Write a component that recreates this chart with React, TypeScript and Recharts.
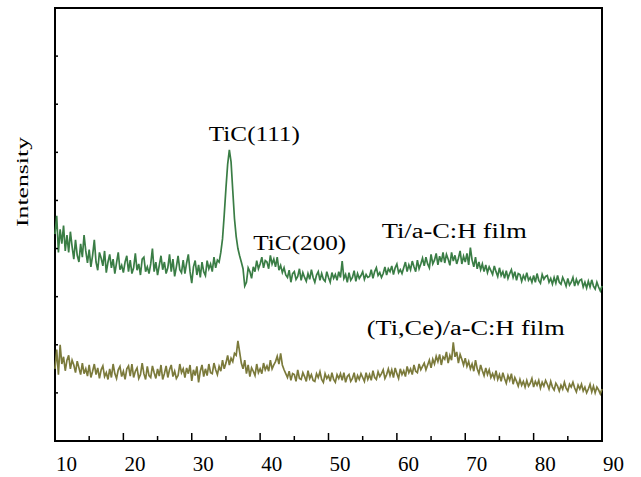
import React from "react";
import { LineChart, Line, XAxis, YAxis, ReferenceArea, ReferenceDot } from "recharts";

// 2θ sampled every 0.25° from 10 to 90
const START = 10;
const STEP = 0.25;

const tiFilm = [
  430, 468, 392, 440, 410, 448, 395, 428, 392, 435, 404, 378, 418, 386, 372, 410,
  382, 428, 395, 370, 398, 362, 386, 418, 372, 355, 392, 380, 364, 395, 350, 372,
  388, 360, 378, 348, 370, 392, 356, 365, 350, 372, 385, 352, 376, 348, 360, 390,
  355, 368, 345, 378, 382, 352, 362, 348, 368, 400, 352, 372, 345, 365, 385, 356,
  372, 348, 360, 388, 352, 378, 342, 362, 385, 356, 350, 376, 348, 370, 388, 352,
  328, 362, 375, 345, 366, 340, 372, 352, 344, 375, 358, 368, 352, 382, 360, 376,
  372, 392, 420, 470, 525, 575, 605, 580, 520, 462, 425, 400, 385, 372, 358, 322,
  330, 360, 352, 338, 362, 352, 375, 358, 368, 382, 360, 375, 372, 358, 386, 368,
  378, 362, 382, 355, 365, 350, 360, 345, 340, 355, 330, 348, 352, 336, 342, 358,
  334, 350, 340, 332, 348, 336, 356, 340, 330, 345, 352, 334, 348, 336, 332, 352,
  340, 330, 350, 338, 346, 334, 352, 340, 374, 338, 346, 330, 350, 334, 340, 354,
  332, 348, 338, 344, 352, 336, 346, 340, 342, 356, 338, 352, 360, 344, 350, 340,
  348, 362, 345, 358, 352, 364, 346, 360, 368, 350, 356, 348, 360, 372, 352, 366,
  356, 374, 362, 352, 376, 358, 368, 380, 364, 382, 368, 360, 388, 368, 376, 390,
  366, 384, 372, 392, 370, 388, 378, 365, 392, 374, 386, 368, 380, 395, 368, 384,
  372, 390, 366, 402, 376, 362, 382, 358, 372, 356, 368, 352, 366, 350, 362, 354,
  346, 364, 352, 342, 360, 344, 352, 338, 354, 338, 348, 356, 340, 352, 334, 348,
  346, 332, 344, 336, 350, 334, 340, 330, 344, 330, 348, 334, 328, 346, 336, 342,
  344, 330, 338, 326, 340, 328, 344, 330, 326, 340, 332, 322, 338, 324, 330, 340,
  322, 336, 326, 334, 336, 320, 330, 318, 332, 320, 335, 322, 316, 330, 320, 312,
  322,
];

const tiCeFilm = [
  150, 190, 138, 200, 160, 175, 146, 168, 178, 150, 168, 158, 142, 166, 152, 138,
  162, 140, 150, 135, 158, 132, 145, 160, 138, 152, 130, 148, 156, 134, 142, 128,
  150, 132, 160, 140, 130, 148, 155, 134, 145, 128, 150, 156, 135, 160, 132, 145,
  152, 130, 138, 162, 140, 128, 155, 136, 132, 156, 142, 130, 150, 135, 158, 128,
  140, 156, 132, 148, 158, 134, 145, 130, 136, 160, 142, 150, 132, 152, 140, 158,
  125, 148, 136, 155, 122, 145, 158, 134, 150, 136, 160, 142, 140, 162, 148, 138,
  155, 145, 168, 150, 162, 178, 158, 172, 165, 182, 178, 208, 185, 162, 150, 168,
  140, 158, 134, 152, 145, 136, 160, 142, 150, 140, 162, 148, 156, 145, 168, 150,
  158, 165, 176, 160, 182, 158, 148, 140, 132, 145, 126, 140, 138, 124, 148, 130,
  128, 142, 134, 124, 146, 130, 138, 126, 124, 140, 132, 144, 128, 122, 140, 130,
  136, 124, 142, 128, 122, 138, 130, 140, 126, 142, 122, 134, 138, 124, 130, 142,
  122, 136, 128, 140, 132, 124, 142, 128, 138, 126, 146, 132, 128, 144, 134, 140,
  148, 130, 138, 150, 136, 148, 132, 152, 140, 130, 150, 138, 146, 134, 155, 142,
  150, 138, 158, 145, 142, 160, 148, 155, 162, 148, 158, 168, 152, 170, 160, 176,
  165, 180, 158, 175, 170, 185, 162, 178, 168, 205, 175, 185, 162, 180, 170, 158,
  172, 155, 165, 150, 160, 145, 168, 150, 140, 158, 146, 136, 152, 138, 148, 132,
  140, 130, 146, 128, 138, 124, 142, 130, 120, 136, 126, 140, 118, 132, 124, 114,
  128, 116, 124, 112, 126, 114, 120, 130, 112, 124, 116, 126, 110, 122, 114, 126,
  118, 108, 124, 112, 106, 120, 114, 104, 116, 108, 122, 110, 104, 118, 112, 122,
  110, 102, 116, 108, 118, 104, 112, 100, 108, 118, 102, 114, 100, 112, 106, 98,
  108,
];

const xTicks = [10, 15, 20, 25, 30, 35, 40, 45, 50, 55, 60, 65, 70, 75, 80, 85, 90];
const yTicks = [100, 200, 300, 400, 500, 600, 700, 800];

const annotations = [
  { text: "TiC(111)", x: 32.5, y: 623, len: 91 },
  { text: "TiC(200)", x: 39.0, y: 397, len: 93 },
  { text: "Ti/a-C:H film", x: 57.8, y: 422, len: 145 },
  { text: "(Ti,Ce)/a-C:H film", x: 55.6, y: 220, len: 198 },
];

const data = tiFilm.map((v, i) => ({ t: START + i * STEP, ti: v, tice: tiCeFilm[i] }));

const FONT = "'Liberation Serif', 'Times New Roman', serif";

function XTick(props: any) {
  const { x, y, payload } = props;
  const major = payload.value % 10 === 0;
  return (
    <g>
      <line x1={x} x2={x} y1={y} y2={y - (major ? 8 : 5)} stroke="#000" strokeWidth={1.5} />
      {major && (
        <text x={x + 1} y={y + 30} textAnchor="start" fontFamily={FONT} fontSize={21} fill="#000">
          {payload.value}
        </text>
      )}
    </g>
  );
}

function YTick(props: any) {
  const { x, y } = props;
  return <line x1={x} x2={x + 3} y1={y} y2={y} stroke="#000" strokeWidth={1.5} />;
}

const intensityLabel = () => (
  <text
    x={28}
    y={182}
    transform="rotate(-90, 28, 182)"
    textAnchor="middle"
    fontFamily={FONT}
    fontSize={17}
    textLength={90}
    lengthAdjust="spacingAndGlyphs"
    fill="#000"
  >
    Intensity
  </text>
);

const annoContent = (len: number) => (props: any) => {
  const { viewBox, value } = props;
  return (
    <text
      x={viewBox.x}
      y={viewBox.y}
      fontFamily={FONT}
      fontSize={20}
      textLength={len}
      lengthAdjust="spacingAndGlyphs"
      fill="#000"
    >
      {value}
    </text>
  );
};

export default function App() {
  return (
    <div style={{ position: "absolute", left: 0, top: 0 }}>
      <LineChart width={641} height={477} data={data} margin={{ top: 8, right: 39, left: 0, bottom: 0 }}>
        <XAxis
          dataKey="t"
          type="number"
          domain={[10, 90]}
          ticks={xTicks}
          height={36}
          axisLine={false}
          tickLine={false}
          tickSize={0}
          tickMargin={0}
          tick={<XTick />}
          interval={0}
        />
        <YAxis
          type="number"
          domain={[0, 900]}
          ticks={yTicks}
          width={55}
          axisLine={false}
          tickLine={false}
          tickSize={0}
          tickMargin={0}
          tick={<YTick />}
          interval={0}
          label={{ content: intensityLabel }}
        />
        <Line dataKey="ti" stroke="#3a7d45" strokeWidth={1.7} dot={false} type="linear" isAnimationActive={false} />
        <Line dataKey="tice" stroke="#7b7a3b" strokeWidth={1.7} dot={false} type="linear" isAnimationActive={false} />
        {annotations.map((a) => (
          <ReferenceDot
            key={a.text}
            x={a.x}
            y={a.y}
            r={0}
            fill="none"
            stroke="none"
            label={{ value: a.text, content: annoContent(a.len) }}
          />
        ))}
        <ReferenceArea x1={10} x2={90} y1={0} y2={900} fill="none" stroke="#000" strokeWidth={2} />
      </LineChart>
    </div>
  );
}
